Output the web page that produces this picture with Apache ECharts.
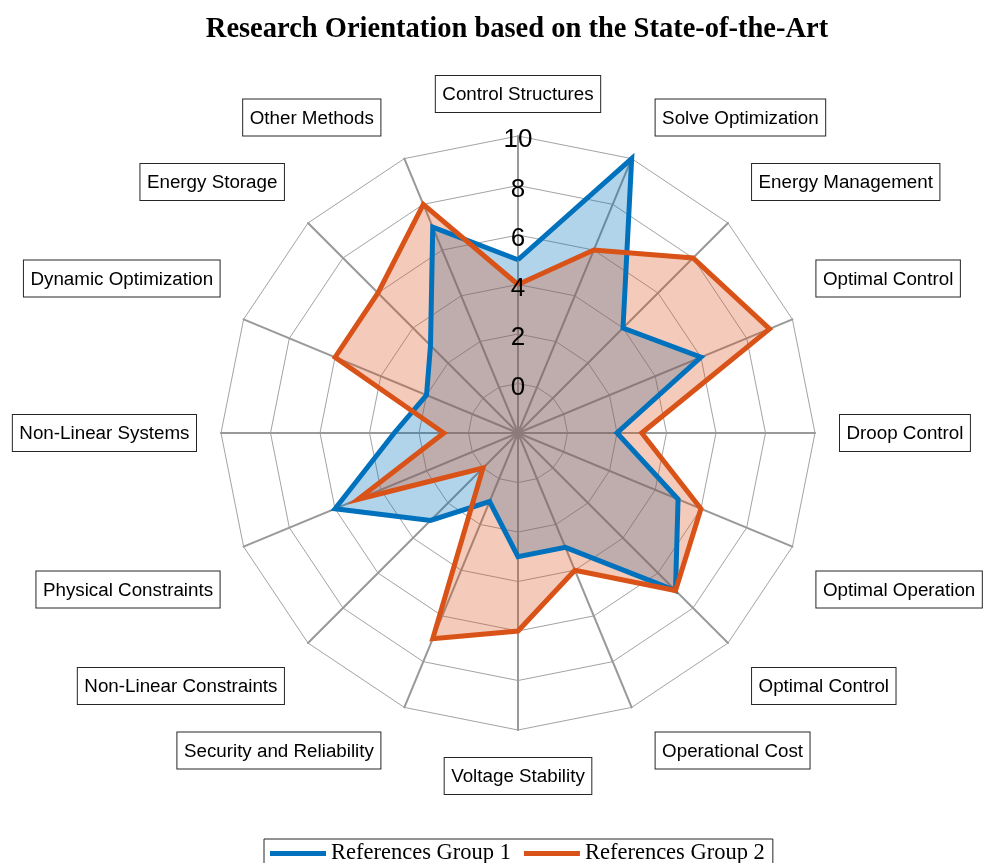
<!DOCTYPE html>
<html>
<head>
<meta charset="utf-8">
<script src="https://cdn.jsdelivr.net/npm/echarts@6/dist/echarts.min.js"></script>
<style>
  html, body { margin: 0; padding: 0; background: #fff; }
  #chart { width: 990px; height: 863px; }
</style>
</head>
<body>
<div id="chart"></div>
<script>
"use strict";

// indicators, clockwise starting at the top
var categories = [
  'Control Structures', 'Solve Optimization', 'Energy Management', 'Optimal Control',
  'Droop Control', 'Optimal Operation', 'Optimal Control', 'Operational Cost',
  'Voltage Stability', 'Security and Reliability', 'Non-Linear Constraints', 'Physical Constraints',
  'Non-Linear Systems', 'Dynamic Optimization', 'Energy Storage', 'Other Methods'
];
var group1 = [5, 10, 4, 6, 2, 5, 7, 3, 3, 1, 3, 6, 3, 2, 3, 7];
var group2 = [4, 6, 8, 9, 3, 6, 7, 4, 6, 7, 0, 5, 1, 6, 6, 8];
var seriesNames = ['References Group 1', 'References Group 2'];
var tickLabels = [0, 2, 4, 6, 8, 10];
var axisMin = -2;
var axisMax = 10;

var BLUE = '#0072BD';
var ORANGE = '#D95319';
var colors = [BLUE, ORANGE];
var groups = [group1, group2];

// echarts lays the radar out counter-clockwise, the picture is clockwise
function ccw(arr){
  var n = arr.length;
  return arr.map(function(_, k){ return arr[(n - k) % n]; });
}

// label boxes sit beside the axis end, like the matlab spider plot
function nameLayout(i, n){
  var a = i * 360 / n;
  var rad = a * Math.PI / 180;
  var right = a > 0 && a < 180;
  var left = a > 180;
  var upper = a < 90 || a > 270;
  var middle = (a === 90 || a === 270);
  var lay = {
    align: right ? 'left' : (left ? 'right' : 'center'),
    verticalAlign: middle ? 'middle' : (upper ? 'bottom' : 'top'),
    gap: 25,
    pad: [0, 0, 0, 0]
  };
  if (a === 180) lay.gap = 27;
  var d = a % 90;
  if (d === 45) {
    lay.gap = 34;
  } else if (d !== 0) {
    lay.gap = 26;
    if (Math.abs(Math.cos(rad)) > 0.7) {
      if (right) lay.pad[3] = 14; else lay.pad[1] = 14;
    } else {
      if (upper) lay.pad[2] = 14; else lay.pad[0] = 14;
    }
  }
  // the box is drawn a bit inside its layout block
  if (!middle) {
    if (upper) lay.pad[2] += 6; else lay.pad[0] += 8;
  }
  return lay;
}

var indicators = categories.map(function(name, i){
  var lay = nameLayout(i, categories.length);
  return {
    name: name,
    min: axisMin,
    max: axisMax,
    nameGap: lay.gap,
    nameTextStyle: {
      align: lay.align,
      verticalAlign: lay.verticalAlign,
      padding: lay.pad
    }
  };
});

// second radar, only carries the tick labels above the areas
var labelIndicators = categories.map(function(name, i){
  var ind = { name: name, min: axisMin, max: axisMax };
  if (i !== 0) ind.axisLabel = { show: false };
  return ind;
});

var radarGeom = {
  radius: 297,
  startAngle: 90,
  shape: 'polygon',
  splitNumber: 6
};

var chart = echarts.init(document.getElementById('chart'));

chart.setOption({
  animation: false,
  backgroundColor: '#fff',
  title: {
    text: 'Research Orientation based on the State-of-the-Art',
    left: 512,
    textAlign: 'center',
    top: 10,
    textStyle: {
      fontFamily: 'Liberation Serif',
      fontWeight: 'bold',
      fontSize: 28.5,
      color: '#000'
    }
  },
  legend: {
    data: seriesNames,
    left: 264,
    top: 839,
    orient: 'horizontal',
    icon: 'rect',
    itemWidth: 56,
    itemHeight: 5,
    itemGap: 13,
    padding: [3, 8, 3, 6],
    borderColor: '#262626',
    borderWidth: 1,
    backgroundColor: '#fff',
    textStyle: {
      fontFamily: 'Liberation Serif',
      fontSize: 22.5,
      color: '#000'
    }
  },
  radar: [Object.assign({}, radarGeom, {
    center: [518, 433],
    indicator: ccw(indicators),
    axisNameGap: 25,
    axisName: {
      show: true,
      formatter: '{b|{value}}',
      rich: {
        b: {
          fontFamily: 'Liberation Sans',
          fontSize: 18.8,
          lineHeight: 22,
          color: '#000',
          backgroundColor: '#fff',
          borderColor: '#262626',
          borderWidth: 1,
          padding: [9.5, 6.5, 7.5, 6.5]
        }
      }
    },
    axisLine: { lineStyle: { color: '#999', width: 2 } },
    splitLine: { lineStyle: { color: '#a3a3a3', width: 1 } },
    splitArea: { show: false },
    axisTick: { show: false },
    axisLabel: { show: false }
  }), Object.assign({}, radarGeom, {
    // nudged down a few pixels so the numbers sit like the reference
    center: [518, 437],
    z: 10,
    indicator: ccw(labelIndicators),
    axisName: { show: false },
    axisLine: { show: false },
    splitLine: { show: false },
    splitArea: { show: false },
    axisTick: { show: false },
    axisLabel: {
      show: true,
      margin: 0,
      align: 'center',
      verticalAlign: 'middle',
      fontFamily: 'Liberation Sans',
      fontSize: 26,
      color: '#000',
      formatter: function(v){
        return tickLabels.indexOf(v) >= 0 ? String(v) : '';
      }
    }
  })],
  series: [{
    // outlines, listed first so the legend takes its icons from them
    type: 'radar',
    radarIndex: 0,
    z: 3,
    symbol: 'none',
    data: groups.map(function(g, k){
      return {
        name: seriesNames[k],
        value: ccw(g),
        itemStyle: { color: colors[k] },
        lineStyle: { color: colors[k], width: 5, join: 'miter', miterLimit: 10 }
      };
    })
  }, {
    // filled areas underneath both outlines
    type: 'radar',
    radarIndex: 0,
    z: 2,
    symbol: 'none',
    data: groups.map(function(g, k){
      return {
        name: seriesNames[k],
        value: ccw(g),
        itemStyle: { color: colors[k] },
        lineStyle: { width: 0, opacity: 0 },
        areaStyle: { color: colors[k], opacity: 0.3 }
      };
    })
  }]
});
</script>
</body>
</html>
